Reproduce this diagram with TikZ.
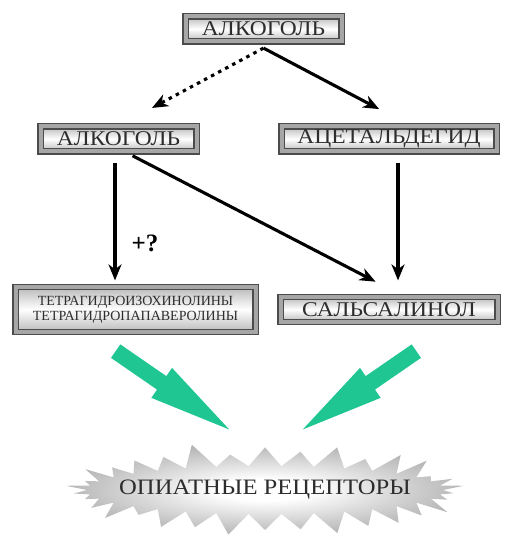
\documentclass[tikz,border=0pt]{standalone}
\usepackage{fontspec}
\setmainfont{Liberation Serif}
\newfontfamily\boxfont[FakeStretch=1.12]{Liberation Serif}
\usepackage{tikz}
\usetikzlibrary{arrows.meta}
\usetikzlibrary{positioning}
\usetikzlibrary{shapes.symbols}
\usetikzlibrary{shapes.arrows}
\definecolor{arrowgreen}{RGB}{32,198,146}
\definecolor{boxtext}{RGB}{45,45,45}
\pgfdeclareradialshading{burstshade}{\pgfpoint{0bp}{0bp}}{color(0bp)=(white); color(6bp)=(white); color(30bp)=(black!36); color(42bp)=(black!52); color(50bp)=(black!62)}
\tikzstyle{every node}+=[inner sep=0pt]
\tikzstyle{box} = [rectangle, draw=black!70, double=gray!70, double distance=4pt, line width=1.2pt, top color=gray!55, bottom color=gray!55, middle color=white, text=boxtext, font=\boxfont\fontsize{21}{23}\selectfont, text centered, minimum height=25pt]
\tikzstyle{line} = [draw, line width=3.1pt, -{Stealth[length=16pt, width=13pt, inset=5pt]}]
\tikzstyle{dotline} = [line, dash pattern=on 3.5pt off 4.5pt]
\tikzstyle{burst} = [starburst, starburst points=34, starburst point height=26pt, shading=burstshade]
\tikzstyle{fat} = [single arrow, fill=arrowgreen, inner xsep=0pt, inner ysep=8pt, single arrow head extend=10pt, single arrow tip angle=25, minimum height=138pt, anchor=tip]

\begin{document}
\begin{tikzpicture}[x=1pt, y=-1pt, node distance=110pt]
  \useasboundingbox (0,0) rectangle (512,537);
  % Place nodes
  \node [box, minimum width=156pt] (top) at (263.5,29) {АЛКОГОЛЬ};
  \node [box, minimum width=156pt, below of=top, xshift=-145pt] (lalk) {АЛКОГОЛЬ};
  \node [box, minimum width=215pt, below of=top, xshift=125.5pt] (acet) {АЦЕТАЛЬДЕГИД};
  \node [box, minimum width=240pt, minimum height=45pt, below of=lalk, node distance=170.5pt, xshift=17pt, font=\fontsize{14}{15}\selectfont, align=center] (tetra) {ТЕТРАГИДРОИЗОХИНОЛИНЫ\\ТЕТРАГИДРОПАПАВЕРОЛИНЫ};
  \node [box, minimum width=217pt, below of=acet, node distance=170.5pt] (sals) {САЛЬСАЛИНОЛ};
  \node [burst, minimum width=408pt, minimum height=100pt, label={[text=boxtext, font=\boxfont\fontsize{22}{24}\selectfont]center:ОПИАТНЫЕ РЕЦЕПТОРЫ}] (opiate) at (265,490) {};
  \coordinate [below=6pt of top] (fork);
  % Green arrows
  \node [fat, rotate=-34.6] (greenl) at (230,430) {};
  \node [fat, rotate=-145.4] (greenr) at (302,430) {};
  % Draw edges
  \path [dotline, shorten >=38pt] (fork) -- (lalk.north);
  \path [line, shorten >=36pt] (fork) -- ([xshift=22pt]acet.north);
  \path [line, shorten <=11pt, shorten >=6pt] ([xshift=-3.5pt]lalk.south) -- ([xshift=-3.5pt]lalk.south |- tetra.north);
  \path [line, shorten <=8pt, shorten >=32pt] ([xshift=7pt]lalk.south) -- ([xshift=15pt]sals.north);
  \path [line, shorten <=11pt, shorten >=16pt] ([xshift=9pt]acet.south) -- ([xshift=9pt]sals.north);
  \node [font=\bfseries\fontsize{25}{25}\selectfont, right=13pt of lalk.south, yshift=-91pt] (plusq) {+?};
\end{tikzpicture}
\end{document}
